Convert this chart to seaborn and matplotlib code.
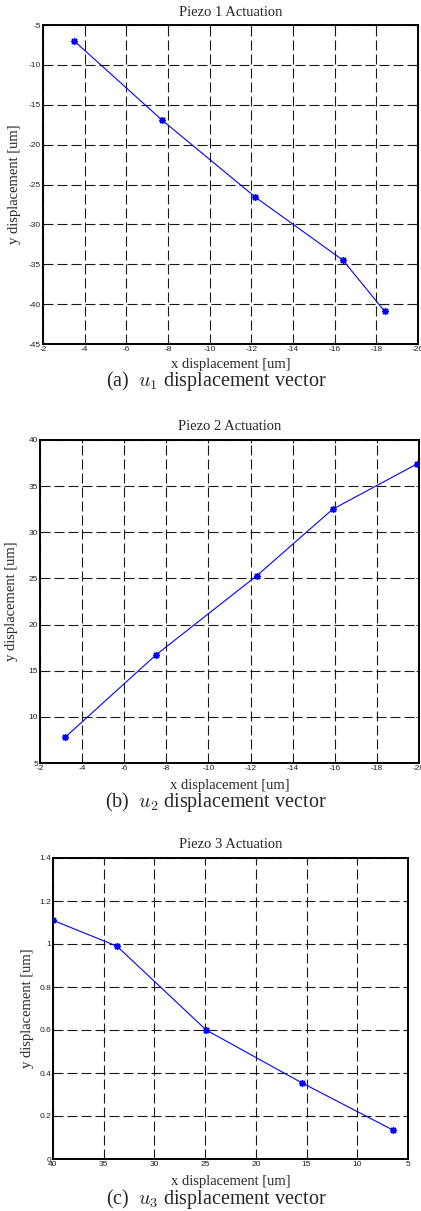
import numpy as np
import pandas as pd
import matplotlib
matplotlib.use("Agg")
import matplotlib.pyplot as plt
import matplotlib.ticker as mticker
import seaborn as sns

# ---- data ----
p1_x = [-3.5, -7.7, -12.2, -16.4, -18.4]
p1_y = [-7.0, -16.9, -26.6, -34.5, -40.9]
p2_x = [-3.2, -7.5, -12.3, -15.9, -19.9]
p2_y = [7.8, 16.7, 25.3, 32.5, 37.4]
p3_x = [40.0, 33.7, 24.9, 15.5, 6.5]
p3_y = [1.11, 0.99, 0.60, 0.355, 0.135]

titles = ["Piezo 1 Actuation", "Piezo 2 Actuation", "Piezo 3 Actuation"]
captions = ["(a)  $u_1$ displacement vector",
            "(b)  $u_2$ displacement vector",
            "(c)  $u_3$ displacement vector"]
xticks_12 = [-2, -4, -6, -8, -10, -12, -14, -16, -18, -20]
yticks_1 = [-5, -10, -15, -20, -25, -30, -35, -40, -45]
yticks_2 = [5, 10, 15, 20, 25, 30, 35, 40]
xticks_3 = [40, 35, 30, 25, 20, 15, 10, 5]
yticks_3 = [0, 0.2, 0.4, 0.6, 0.8, 1.0, 1.2, 1.4]

sns.set_style("white")
plt.rcParams["font.family"] = ["Liberation Serif", "DejaVu Serif"]
plt.rcParams["mathtext.fontset"] = "cm"

W, H = 421, 1211
fig = plt.figure(figsize=(W / 100, H / 100), dpi=100)

# axes boxes in pixels: left, top, right, bottom
boxes = [(43, 25, 418, 344), (40, 440, 419, 763), (53, 858, 408, 1159)]
caption_y = [381, 802, 1199]
xlabel_off = [20, 22, 22]
ylabel_x = [15, 12, 27]

datasets = [
    (p1_x, p1_y, (-2, -20), (-45, -5), xticks_12, yticks_1),
    (p2_x, p2_y, (-2, -20), (5, 40), xticks_12, yticks_2),
    (p3_x, p3_y, (40, 5), (0, 1.4), xticks_3, yticks_3),
]

for i, (box, (xs, ys, xl, yl, xt, yt)) in enumerate(zip(boxes, datasets)):
    l, t, r, b = box
    ax = fig.add_axes([l / W, 1 - b / H, (r - l) / W, (b - t) / H])
    df = pd.DataFrame({"x": xs, "y": ys})
    sns.lineplot(data=df, x="x", y="y", ax=ax, sort=False, estimator=None,
                 color="#0000ff", linewidth=0.8, marker=(8, 2, 0),
                 markersize=5, markeredgewidth=1.0, markeredgecolor="#0000ff",
                 zorder=3)
    ax.set_xlim(*xl)
    ax.set_ylim(*yl)
    ax.set_xticks(xt)
    ax.set_yticks(yt)
    ax.xaxis.set_major_formatter(mticker.FormatStrFormatter("%g"))
    ax.yaxis.set_major_formatter(mticker.FormatStrFormatter("%g"))
    ax.grid(True, color="#1a1a1a", linewidth=0.8, linestyle=(0, (9, 3.6)))
    for s in ax.spines.values():
        s.set_visible(True)
        s.set_color("black")
        s.set_linewidth(1.4)
    ax.tick_params(direction="in", length=2.5, width=0.8, top=True, right=True,
                   labelsize=6, labelcolor="#222222", pad=1.5)
    for lab in ax.get_xticklabels() + ax.get_yticklabels():
        lab.set_family(["Liberation Sans", "DejaVu Sans"])
    ah = b - t
    aw = r - l
    ax.set_title(titles[i], fontsize=10.5, y=1 + 13 / ah, va="center", pad=0)
    ax.set_xlabel("x displacement [um]", fontsize=10.5)
    ax.set_ylabel("y displacement [um]", fontsize=10.5)
    ax.xaxis.set_label_coords(0.5, -xlabel_off[i] / ah)
    ax.xaxis.label.set_va("center")
    ax.yaxis.set_label_coords((ylabel_x[i] - l) / aw, 0.5)
    ax.yaxis.label.set_va("center")
    fig.text(216 / W, 1 - caption_y[i] / H, captions[i], fontsize=14.5,
             ha="center", va="center")

fig.savefig("out.png", dpi=100)
